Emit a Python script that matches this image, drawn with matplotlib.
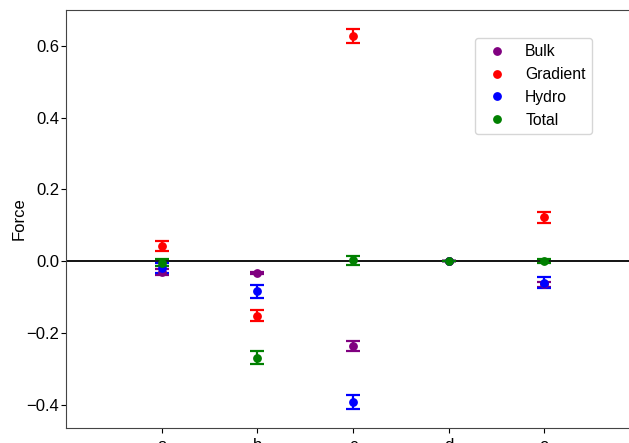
import matplotlib
matplotlib.use('Agg')
import matplotlib.pyplot as plt
import numpy as np

plt.rcParams['font.family'] = ['Liberation Sans', 'DejaVu Sans']

# data
categories = ['a', 'b', 'c', 'd', 'e']
bulk = [-0.031, -0.033, -0.236, 0.0, -0.065]
bulk_err = [0.008, 0.003, 0.014, 0.0, 0.008]
gradient = [0.043, -0.152, 0.628, 0.0, 0.122]
gradient_err = [0.014, 0.015, 0.019, 0.0, 0.016]
hydro = [-0.019, -0.084, -0.392, 0.0, -0.060]
hydro_err = [0.015, 0.018, 0.020, 0.0, 0.015]
total = [-0.004, -0.269, 0.002, 0.0, 0.0]
total_err = [0.010, 0.018, 0.012, 0.0, 0.005]

series = [('Bulk', bulk, bulk_err, 'purple'),
          ('Gradient', gradient, gradient_err, 'red'),
          ('Hydro', hydro, hydro_err, 'blue'),
          ('Total', total, total_err, 'green')]

x = np.arange(len(categories))

fig = plt.figure(figsize=(6.29, 4.43), dpi=100)
# axes runs a little past the right edge like the reference crop
ax = fig.add_axes([66/629, 15/443, 574/629, 418/443])

for name, vals, errs, col in series:
    ax.errorbar(x, vals, yerr=errs, fmt='o', color=col, ms=5.3, capsize=5,
                elinewidth=1.6, capthick=1.6)
    ax.plot([], [], 'o', color=col, ms=5.3, label=name)

ax.axhline(0, color='black', lw=1.3, zorder=0)

ax.set_xlim(-1, 5)
ax.set_xticks(x)
ax.set_xticklabels(categories)
ax.set_ylabel('Force', fontsize=12, labelpad=0)
ax.tick_params(labelsize=12)
ax.tick_params(axis='y', pad=1.5)
for s in ax.spines.values():
    s.set_color('#444444')

ax.legend(loc='upper left', bbox_to_anchor=(0.7125, 0.933), borderaxespad=0,
          fontsize=11.3)

fig.savefig('out.png', dpi=100)
